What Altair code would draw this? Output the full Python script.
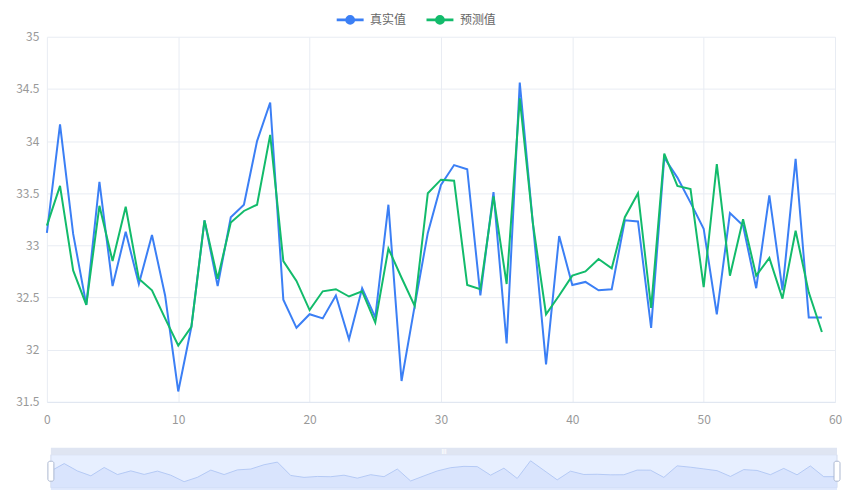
import altair as alt
import pandas as pd

# ---- data -------------------------------------------------------------
idx = list(range(60))
real = [33.12, 34.16, 33.11, 32.43, 33.61, 32.61, 33.13, 32.63, 33.10, 32.52,
        31.60, 32.22, 33.24, 32.61, 33.27, 33.39, 34.00, 34.37, 32.48, 32.21,
        32.34, 32.30, 32.52, 32.10, 32.59, 32.31, 33.39, 31.70, 32.42, 33.12,
        33.58, 33.77, 33.73, 32.52, 33.51, 32.06, 34.56, 33.21, 31.86, 33.09,
        32.62, 32.65, 32.57, 32.58, 33.24, 33.23, 32.21, 33.84, 33.65, 33.41,
        33.16, 32.34, 33.31, 33.19, 32.59, 33.48, 32.57, 33.83, 32.31, 32.31]
pred = [33.19, 33.57, 32.76, 32.43, 33.38, 32.85, 33.37, 32.68, 32.57, 32.30,
        32.04, 32.22, 33.24, 32.68, 33.22, 33.33, 33.39, 34.06, 32.85, 32.66,
        32.38, 32.56, 32.58, 32.51, 32.56, 32.26, 32.97, 32.69, 32.42, 33.50,
        33.63, 33.62, 32.62, 32.58, 33.47, 32.63, 34.41, 33.21, 32.34, 32.52,
        32.71, 32.75, 32.87, 32.78, 33.27, 33.50, 32.40, 33.88, 33.57, 33.54,
        32.60, 33.78, 32.71, 33.25, 32.71, 32.88, 32.49, 33.14, 32.55, 32.17]
series_names = ["真实值", "预测值"]
series_colors = ["#3b7ff5", "#12bb6b"]
x_ticks = [0, 10, 20, 30, 40, 50, 60]
y_ticks = [31.5, 32, 32.5, 33, 33.5, 34, 34.5, 35]

FONT = "Noto Sans CJK SC"

wide = pd.DataFrame({"idx": idx, "real": real, "pred": pred})
long = pd.DataFrame({
    "idx": idx + idx,
    "value": real + pred,
    "series": [series_names[0]] * len(idx) + [series_names[1]] * len(idx),
})

# ---- main line chart ---------------------------------------------------
# legend icon: a short line with a solid dot in the middle
legend_symbol = (
    "M-1,0L1,0"
    "M0.267,0A0.267,0.267,0,1,1,-0.267,0A0.267,0.267,0,1,1,0.267,0"
    "M0.133,0A0.133,0.133,0,1,1,-0.133,0A0.133,0.133,0,1,1,0.133,0"
    "M0.03,0A0.03,0.03,0,1,1,-0.03,0A0.03,0.03,0,1,1,0.03,0"
)

color = alt.Color(
    "series:N",
    scale=alt.Scale(domain=series_names, range=series_colors),
    legend=alt.Legend(
        title=None, orient="none", legendX=289, legendY=-32,
        direction="horizontal", symbolType=legend_symbol, symbolSize=729,
        symbolStrokeWidth=2.6, labelFont=FONT, labelFontSize=12,
        labelColor="#666666", labelOffset=5, columnPadding=14,
    ),
)

x_main = alt.X(
    "idx:Q",
    scale=alt.Scale(domain=[0, 60], nice=False, zero=False),
    axis=alt.Axis(values=x_ticks, format="d", title=None, grid=True,
                  ticks=False, labelPadding=13, labelFlush=False, domain=True),
)
y_main = alt.Y(
    "value:Q",
    scale=alt.Scale(domain=[31.5, 35], nice=False, zero=False),
    axis=alt.Axis(values=y_ticks, format="~g", title=None, grid=True,
                  ticks=False, labelPadding=8, labelFlush=False, domain=False),
)

base = alt.Chart(long).encode(x=x_main, y=y_main, color=color)
line_real = base.transform_filter(alt.datum.series == series_names[0]).mark_line(strokeWidth=2)
line_pred = base.transform_filter(alt.datum.series == series_names[1]).mark_line(strokeWidth=2)
main = alt.layer(line_real, line_pred).properties(width=790, height=366)

# ---- zoom slider underneath -------------------------------------------
sx = alt.Scale(domain=[-0.3, 59], nice=False, zero=False)
sy = alt.Scale(domain=[30.75, 35.41], range=[40, 7], nice=False, zero=False)

window = pd.DataFrame({"start": [0], "end": [59], "mid": [29.5]})
handles = pd.DataFrame({"pos": [0, 59]})

body = alt.Chart(window).mark_rect(fill="#e7efff", stroke="#d2dbee", strokeWidth=1).encode(
    x=alt.X("start:Q", scale=sx, axis=None), x2="end:Q",
    y=alt.value(7), y2=alt.value(40),
)
top_bar = alt.Chart(window).mark_rect(fill="#dfe5f2").encode(
    x=alt.X("start:Q", scale=sx, axis=None), x2="end:Q",
    y=alt.value(0), y2=alt.value(7),
)
grip = alt.Chart(window).mark_text(text="|||", fontSize=6, color="#ffffff", fontWeight="bold").encode(
    x=alt.X("mid:Q", scale=sx, axis=None), y=alt.value(3.5),
)
shadow = alt.Chart(wide).mark_area(
    color="#d3e0fc", line={"color": "#a9c1f3", "strokeWidth": 0.8}
).encode(
    x=alt.X("idx:Q", scale=sx, axis=None),
    y=alt.Y("real:Q", scale=sy, axis=None),
)
handle_marks = alt.Chart(handles).mark_tick(
    thickness=6, size=20, color="#ffffff", stroke="#acb8d1", strokeWidth=1,
    cornerRadius=2, opacity=1,
).encode(
    x=alt.X("pos:Q", scale=sx, axis=None), y=alt.value(23.5),
)
slider = alt.layer(body, top_bar, grip, shadow, handle_marks).resolve_scale(
    y="independent"
).properties(width=792, height=40)

chart = alt.vconcat(main, slider, spacing=46, bounds="flush").resolve_scale(
    x="independent", y="independent"
).properties(
    padding={"left": 15, "top": 4, "right": 2, "bottom": 2},
    background="#ffffff",
).configure_view(stroke=None).configure_axis(
    gridColor="#e8ecf3", gridWidth=1, domainColor="#e0e6f1",
    labelColor="#999999", labelFont=FONT, labelFontSize=12,
)

chart.save("out.html", embed_options={"renderer": "svg", "actions": False})
